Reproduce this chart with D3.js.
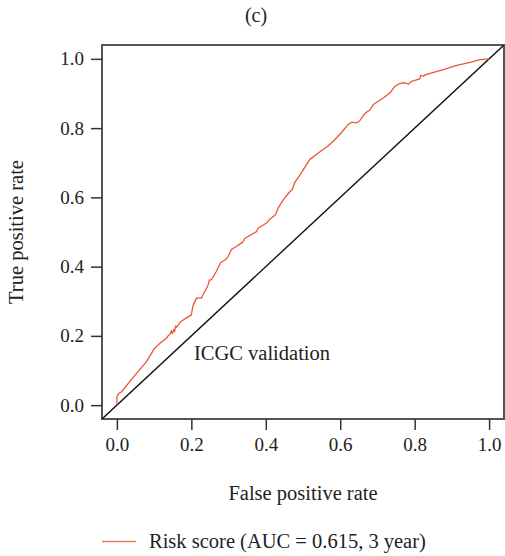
<!DOCTYPE html>
<html>
<head>
<meta charset="utf-8">
<script src="https://cdn.jsdelivr.net/npm/d3@7"></script>
<style>
  html, body { margin: 0; padding: 0; background: #fff; }
  svg text { font-family: "Liberation Serif", "DejaVu Serif", serif; fill: #222; }
</style>
</head>
<body>
<svg id="chart" width="505" height="556"></svg>
<script>
// ROC curve of the risk score, ICGC validation cohort (3-year)
const fpr = [0, 0, 0.005, 0.012, 0.034, 0.056, 0.079, 0.101, 0.115, 0.133, 0.139, 0.144,
  0.146, 0.149, 0.153, 0.155, 0.158, 0.161, 0.171, 0.191, 0.200, 0.204, 0.214, 0.227,
  0.231, 0.241, 0.245, 0.249, 0.254, 0.267, 0.279, 0.290, 0.299, 0.308, 0.321, 0.330,
  0.339, 0.344, 0.375, 0.379, 0.402, 0.411, 0.426, 0.433, 0.447, 0.465, 0.471, 0.478,
  0.492, 0.518, 0.541, 0.568, 0.586, 0.604, 0.621, 0.631, 0.644, 0.653, 0.666, 0.680,
  0.689, 0.716, 0.734, 0.747, 0.761, 0.774, 0.783, 0.792, 0.814, 0.816, 0.823, 0.832,
  0.877, 0.913, 0.949, 0.976, 1.0];
const tpr = [0, 0.024, 0.034, 0.038, 0.067, 0.096, 0.125, 0.164, 0.178, 0.193, 0.202, 0.207,
  0.215, 0.207, 0.219, 0.212, 0.229, 0.225, 0.241, 0.255, 0.260, 0.286, 0.309, 0.309,
  0.318, 0.338, 0.347, 0.362, 0.362, 0.386, 0.412, 0.419, 0.429, 0.450, 0.458, 0.465,
  0.472, 0.482, 0.501, 0.511, 0.526, 0.537, 0.550, 0.569, 0.593, 0.617, 0.622, 0.643,
  0.665, 0.709, 0.728, 0.749, 0.767, 0.788, 0.810, 0.817, 0.815, 0.822, 0.842, 0.853,
  0.868, 0.887, 0.902, 0.921, 0.929, 0.931, 0.927, 0.935, 0.942, 0.952, 0.950, 0.955,
  0.969, 0.981, 0.990, 0.998, 1.0];
const tickValues = [0, 0.2, 0.4, 0.6, 0.8, 1.0];
const panelTitle = "(c)";
const xTitle = "False positive rate";
const yTitle = "True positive rate";
const annotation = "ICGC validation";
const legendLabel = "Risk score (AUC = 0.615, 3 year)";
const curveColor = "#ee553a";

const svg = d3.select("#chart");
const box = { left: 102, right: 504, top: 45, bottom: 419 };

// R-style 4% expansion of the [0, 1] range
const x = d3.scaleLinear().domain([-0.04, 1.04]).range([box.left, box.right]);
const y = d3.scaleLinear().domain([-0.04, 1.04]).range([box.bottom, box.top]);

// plot frame
svg.append("rect")
  .attr("x", box.left).attr("y", box.top)
  .attr("width", box.right - box.left).attr("height", box.bottom - box.top)
  .attr("fill", "none").attr("stroke", "#555").attr("stroke-width", 2);

const fmt = d3.format(".1f");

const xAxis = svg.append("g")
  .attr("transform", `translate(0,${box.bottom})`)
  .call(d3.axisBottom(x).tickValues(tickValues).tickFormat(fmt).tickSize(11).tickPadding(8));
const yAxis = svg.append("g")
  .attr("transform", `translate(${box.left},0)`)
  .call(d3.axisLeft(y).tickValues(tickValues).tickFormat(fmt).tickSize(11).tickPadding(7));

[xAxis, yAxis].forEach(g => {
  g.select(".domain").remove();
  g.selectAll(".tick line").attr("stroke", "#333").attr("stroke-width", 1.5);
  g.selectAll(".tick text")
    .attr("font-family", "Liberation Serif, DejaVu Serif, serif")
    .attr("font-size", 19).attr("fill", "#222");
});

// chance line across the full plotting region
svg.append("clipPath").attr("id", "plotClip")
  .append("rect")
  .attr("x", box.left).attr("y", box.top)
  .attr("width", box.right - box.left).attr("height", box.bottom - box.top);

svg.append("line")
  .attr("clip-path", "url(#plotClip)")
  .attr("x1", x(-0.04)).attr("y1", y(-0.04))
  .attr("x2", x(1.04)).attr("y2", y(1.04))
  .attr("stroke", "#111").attr("stroke-width", 1.4);

// ROC curve
const rocPoints = fpr.map((f, i) => [f, tpr[i]]);
svg.append("path")
  .datum(rocPoints)
  .attr("fill", "none")
  .attr("stroke", curveColor)
  .attr("stroke-width", 1.3)
  .attr("stroke-linejoin", "round")
  .attr("d", d3.line().x(d => x(d[0])).y(d => y(d[1])));

// annotation inside the plot
svg.append("text")
  .attr("x", x(0.207)).attr("y", y(0.131))
  .attr("font-size", 20.5)
  .text(annotation);

// panel title
svg.append("text")
  .attr("x", 256).attr("y", 22)
  .attr("text-anchor", "middle").attr("font-size", 20)
  .text(panelTitle);

// axis titles
svg.append("text")
  .attr("x", (box.left + box.right) / 2).attr("y", 500)
  .attr("text-anchor", "middle").attr("font-size", 20.5)
  .text(xTitle);

svg.append("text")
  .attr("transform", `translate(23,${(box.top + box.bottom) / 2}) rotate(-90)`)
  .attr("text-anchor", "middle").attr("font-size", 20.5)
  .text(yTitle);

// legend
svg.append("line")
  .attr("x1", 102).attr("x2", 136).attr("y1", 541.5).attr("y2", 541.5)
  .attr("stroke", curveColor).attr("stroke-opacity", 0.8).attr("stroke-width", 1.5);
svg.append("text")
  .attr("x", 149).attr("y", 548)
  .attr("font-size", 20.5)
  .text(legendLabel);
</script>
</body>
</html>
